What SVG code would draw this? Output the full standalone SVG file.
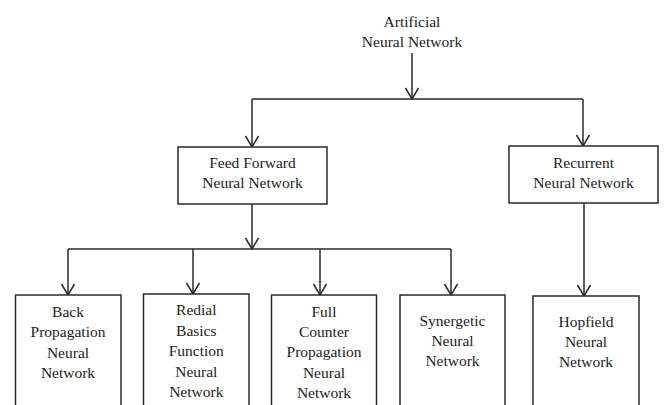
<svg xmlns="http://www.w3.org/2000/svg" width="664" height="405" viewBox="0 0 664 405">
<style>
.box{fill:#fff;stroke:#2a2a2a;stroke-width:1.5}
.c{fill:none;stroke:#2a2a2a;stroke-width:1.5}
</style>
<defs>
<marker id="ah" markerUnits="userSpaceOnUse" markerWidth="14" markerHeight="16" viewBox="-12 -8 14 16" refX="0" refY="0" orient="auto">
<path d="M-11,-6.5 L0,0 L-11,6.5" fill="none" stroke="#2a2a2a" stroke-width="1.5"/>
</marker>
</defs>
<rect width="664" height="405" fill="#fff"/>
<g id="connectors">
<line class="c" x1="412" y1="53" x2="412" y2="99" marker-end="url(#ah)"/>
<line class="c" x1="252" y1="99" x2="583" y2="99"/>
<line class="c" x1="252" y1="99" x2="252" y2="147" marker-end="url(#ah)"/>
<line class="c" x1="583" y1="99" x2="583" y2="146" marker-end="url(#ah)"/>
<line class="c" x1="252" y1="204" x2="252" y2="249" marker-end="url(#ah)"/>
<line class="c" x1="68" y1="249" x2="451" y2="249"/>
<line class="c" x1="68" y1="249" x2="68" y2="295" marker-end="url(#ah)"/>
<line class="c" x1="193" y1="249" x2="193" y2="294" marker-end="url(#ah)"/>
<line class="c" x1="320" y1="249" x2="320" y2="295" marker-end="url(#ah)"/>
<line class="c" x1="451" y1="249" x2="451" y2="295" marker-end="url(#ah)"/>
<line class="c" x1="584" y1="203" x2="584" y2="296" marker-end="url(#ah)"/>
</g>
<g font-family="'Liberation Serif', serif" font-size="15.5" fill="#222" text-anchor="middle">
<g id="ann">
<text x="412" y="27">Artificial</text>
<text x="412" y="47">Neural Network</text>
</g>
<g id="ff">
<rect class="box" x="178" y="147" width="149" height="57"/>
<text x="252.5" y="168">Feed Forward</text>
<text x="252.5" y="188">Neural Network</text>
</g>
<g id="rnn">
<rect class="box" x="509" y="146" width="149" height="57"/>
<text x="583.5" y="168">Recurrent</text>
<text x="583.5" y="188">Neural Network</text>
</g>
<g id="bp">
<rect class="box" x="15.5" y="295" width="105.5" height="150"/>
<text x="68" y="317">Back</text>
<text x="68" y="337">Propagation</text>
<text x="68" y="358">Neural</text>
<text x="68" y="378">Network</text>
</g>
<g id="rbf">
<rect class="box" x="143.5" y="294" width="105.5" height="150"/>
<text x="196.3" y="315">Redial</text>
<text x="196.3" y="336">Basics</text>
<text x="196.3" y="356">Function</text>
<text x="196.3" y="377">Neural</text>
<text x="196.3" y="397">Network</text>
</g>
<g id="fcp">
<rect class="box" x="271.5" y="295" width="105" height="150"/>
<text x="324" y="317">Full</text>
<text x="324" y="337">Counter</text>
<text x="324" y="357">Propagation</text>
<text x="324" y="378">Neural</text>
<text x="324" y="398">Network</text>
</g>
<g id="syn">
<rect class="box" x="400" y="295" width="105" height="150"/>
<text x="452.5" y="326">Synergetic</text>
<text x="452.5" y="346">Neural</text>
<text x="452.5" y="366">Network</text>
</g>
<g id="hop">
<rect class="box" x="533" y="296" width="106" height="150"/>
<text x="586" y="327">Hopfield</text>
<text x="586" y="347">Neural</text>
<text x="586" y="367">Network</text>
</g>
</g>
</svg>
